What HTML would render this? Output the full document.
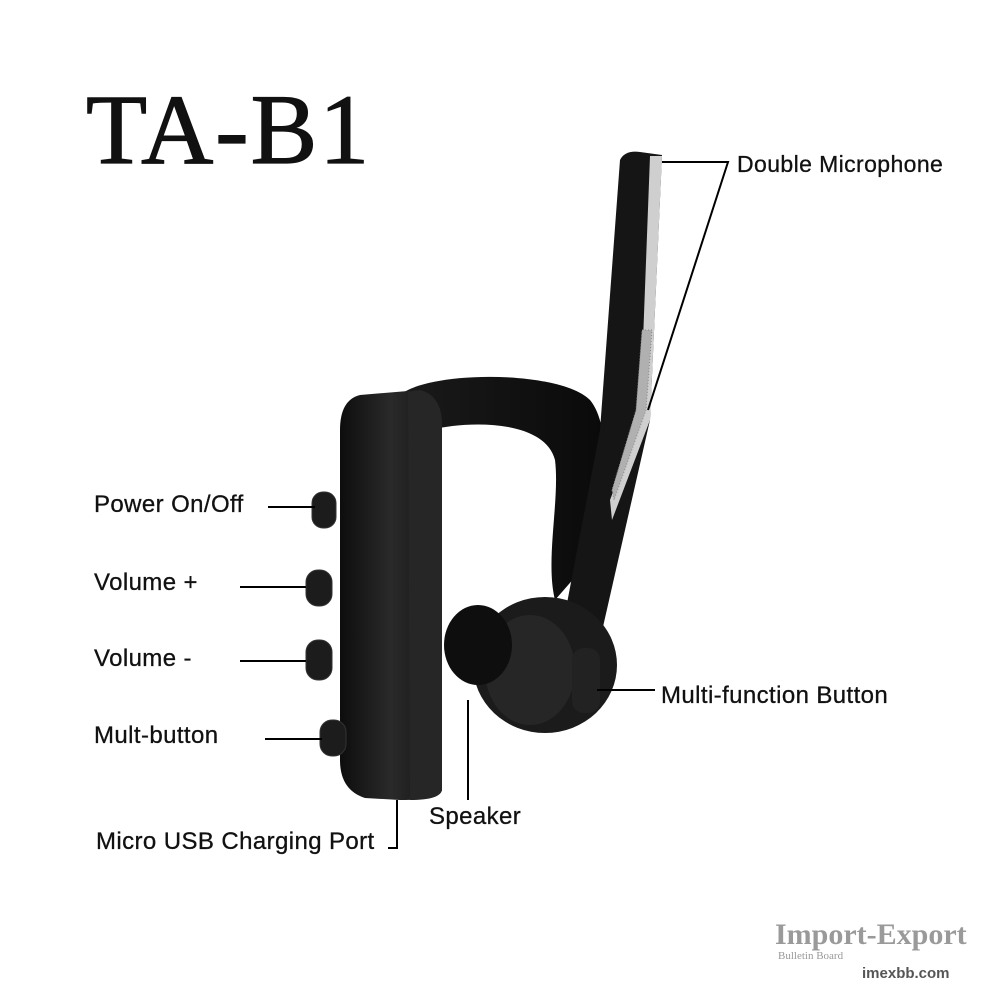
<!DOCTYPE html>
<html><head><meta charset="utf-8"><style>
html,body{margin:0;padding:0;background:#fff;}
body{width:1000px;height:1000px;position:relative;overflow:hidden;font-family:"Liberation Sans",Arial,sans-serif;}
.t{position:absolute;font-size:24px;letter-spacing:0.4px;color:#111;white-space:nowrap;-webkit-text-stroke:0.3px #111;}
</style></head><body>
<div style="position:absolute;left:86px;top:72px;font-family:'Liberation Serif',serif;font-size:100px;letter-spacing:2px;color:#111;-webkit-text-stroke:1.2px #111;">TA-B1</div>
<svg width="1000" height="1000" style="position:absolute;left:0;top:0">
 <defs>
  <linearGradient id="g1" x1="0" x2="1"><stop offset="0" stop-color="#0d0d0d"/><stop offset="0.5" stop-color="#2a2a2a"/><stop offset="1" stop-color="#111"/></linearGradient>
  <linearGradient id="g2" x1="0" x2="1"><stop offset="0" stop-color="#1a1a1a"/><stop offset="1" stop-color="#0a0a0a"/></linearGradient>
 </defs>
 <path d="M400 395 C430 370 560 370 590 400 C615 430 605 520 590 560 L555 600 C545 560 560 500 555 460 C545 420 470 420 430 430 Z" fill="url(#g2)"/>
 <path d="M620 160 Q625 150 640 152 L662 155 L650 420 L600 640 L560 640 L600 430 Z" fill="#151515"/>
 <path d="M650 156 L662 156 L650 420 L612 520 L610 500 L640 420 Z" fill="#cfcfcf"/>
 <path d="M642 330 L652 330 L646 410 L614 500 L612 490 L636 410 Z" fill="#b0b0b0" stroke="#888" stroke-dasharray="1 2"/>
 <ellipse cx="545" cy="665" rx="72" ry="68" fill="#1b1b1b"/>
 <ellipse cx="530" cy="670" rx="45" ry="55" fill="#262626"/>
 <ellipse cx="478" cy="645" rx="34" ry="40" fill="#0e0e0e"/>
 <rect x="572" y="648" width="28" height="65" rx="12" fill="#222"/>
 <path d="M360 395 L420 390 Q440 395 442 420 L442 790 Q440 800 400 800 L365 798 Q340 790 340 760 L340 430 Q340 400 360 395 Z" fill="url(#g1)"/>
 <path d="M408 392 L420 390 Q440 395 442 420 L442 790 Q440 800 410 800 Z" fill="#262626"/>
 <rect x="312" y="492" width="24" height="36" rx="11" fill="#1c1c1c" stroke="#333"/>
 <rect x="306" y="570" width="26" height="36" rx="12" fill="#1c1c1c" stroke="#333"/>
 <rect x="306" y="640" width="26" height="40" rx="12" fill="#1c1c1c" stroke="#333"/>
 <rect x="320" y="720" width="26" height="36" rx="12" fill="#1c1c1c" stroke="#333"/>
 <g stroke="#000" stroke-width="2" fill="none">
  <path d="M662 162 L728 162 L648 410"/>
  <path d="M268 507 L315 507"/>
  <path d="M240 587 L306 587"/>
  <path d="M240 661 L306 661"/>
  <path d="M265 739 L322 739"/>
  <path d="M397 800 L397 848 L388 848"/>
  <path d="M468 700 L468 800"/>
  <path d="M597 690 L655 690"/>
 </g>
</svg>
<div class="t" style="left:737px;top:151px;font-size:23px">Double Microphone</div>
<div class="t" style="left:94px;top:491px">Power On/Off</div>
<div class="t" style="left:94px;top:569px">Volume +</div>
<div class="t" style="left:94px;top:645px">Volume -</div>
<div class="t" style="left:94px;top:722px">Mult-button</div>
<div class="t" style="left:96px;top:828px">Micro USB Charging Port</div>
<div class="t" style="left:429px;top:803px">Speaker</div>
<div class="t" style="left:661px;top:682px">Multi-function Button</div>
<div style="position:absolute;left:775px;top:918px;font-family:'Liberation Serif',serif;font-weight:bold;font-size:30px;color:#9a9a9a;">Import-Export</div>
<div style="position:absolute;left:778px;top:950px;font-family:'Liberation Serif',serif;font-size:11px;color:#999;">Bulletin Board</div>
<div style="position:absolute;left:862px;top:965px;font-weight:bold;font-size:15px;color:#555;">imexbb.com</div>
</body></html>
